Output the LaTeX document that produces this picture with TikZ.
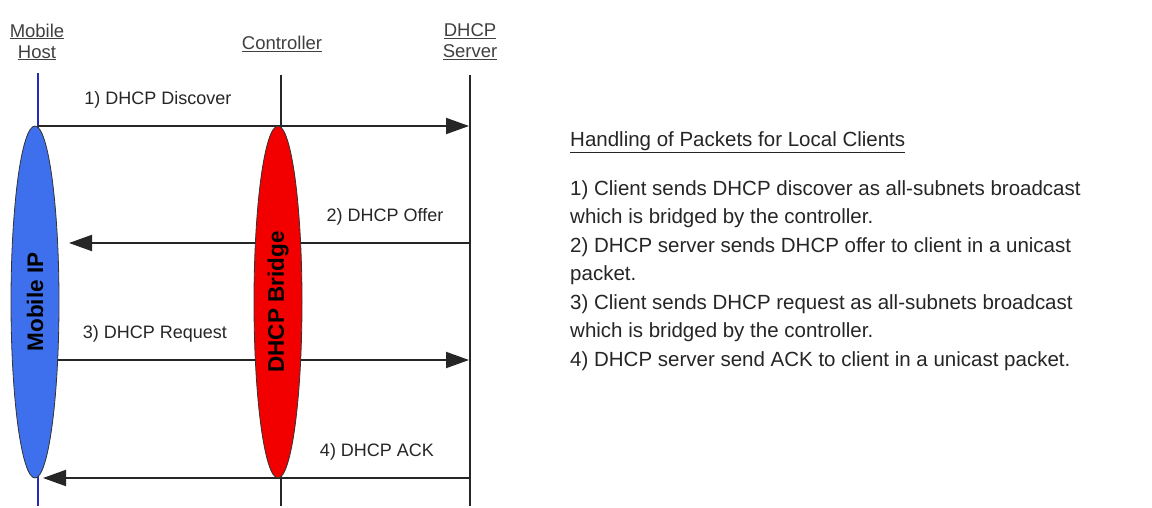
\documentclass[tikz,border=0pt]{standalone}
\usepackage{fontspec}
\setmainfont{Liberation Sans}
\usetikzlibrary{arrows.meta,shapes.geometric}
\definecolor{mipblue}{RGB}{62,112,238}
\definecolor{bridgered}{RGB}{242,0,0}
\definecolor{lineblue}{RGB}{40,40,190}
\begin{document}
\begin{tikzpicture}[x=1pt,y=-1pt,
 lifeline/.style={line width=2pt, black!85},
 msg/.style={line width=2pt, black!85, -{Triangle[length=23pt,width=16pt]}},
 hdr/.style={font=\fontsize{18.5}{21}\selectfont, align=center, text=black!75, inner sep=0pt},
 lbl/.style={font=\fontsize{18}{21}\selectfont, text=black!85, inner sep=0pt},
 oval/.style={ellipse, draw=black!80, line width=0.8pt, minimum width=352pt, minimum height=48pt, inner sep=0pt, rotate=90, font=\fontsize{22.5}{24}\selectfont\bfseries},
 body/.style={font=\fontsize{20.5}{28.5}\selectfont, text=black!85, align=left, inner sep=0pt}
]
\useasboundingbox[fill=white] (0,0) rectangle (1152,508);

% headers
\node[hdr] (hmh) at (37,42) {\underline{Mobile}\\\underline{Host}};
\node[hdr] (hctl) at (282,44) {\underline{Controller}};
\node[hdr] (hsrv) at (470,42) {\underline{DHCP}\\\underline{Server}};

% lifeline coordinates
\coordinate (mhT) at (38,73);
\coordinate (mhB) at (38,506);
\coordinate (ctT) at (281,75);
\coordinate (ctB) at (281,506);
\coordinate (svT) at (470,75);
\coordinate (svB) at (470,506);

\draw[line width=1.6pt, lineblue] (mhT) -- (mhB);
\draw[lifeline] (ctT) -- (ctB);
\draw[lifeline] (svT) -- (svB);

% message end points
\coordinate (m1a) at (38,126);  \coordinate (m1b) at (469,126);
\coordinate (m2a) at (470,243); \coordinate (m2b) at (69,243);
\coordinate (m3a) at (38,360);  \coordinate (m3b) at (469,360);
\coordinate (m4a) at (470,478); \coordinate (m4b) at (43,478);

\draw[msg] (m1a) -- (m1b);
\draw[msg] (m2a) -- (m2b);
\draw[msg] (m3a) -- (m3b);
\draw[msg] (m4a) -- (m4b);

\node[lbl] (l1) at (158,100) {1) DHCP Discover};
\node[lbl] (l2) at (385,217) {2) DHCP Offer};
\node[lbl] (l3) at (155,334) {3) DHCP Request};
\node[lbl] (l4) at (377,452) {4) DHCP ACK};

% ovals
\node[oval, fill=mipblue] (mip) at (35,302) {Mobile IP};
\node[oval, fill=bridgered] (brg) at (278,302) {DHCP Bridge};

% explanation text
\node[body, anchor=west] (title) at (570,142) {\underline{Handling of Packets for Local Clients}};
\node[body, anchor=north west] (desc) at (570,180) {1) Client sends DHCP discover as all-subnets broadcast\\
which is bridged by the controller.\\
2) DHCP server sends DHCP offer to client in a unicast\\
packet.\\
3) Client sends DHCP request as all-subnets broadcast\\
which is bridged by the controller.\\
4) DHCP server send ACK to client in a unicast packet.};
\end{tikzpicture}
\end{document}
